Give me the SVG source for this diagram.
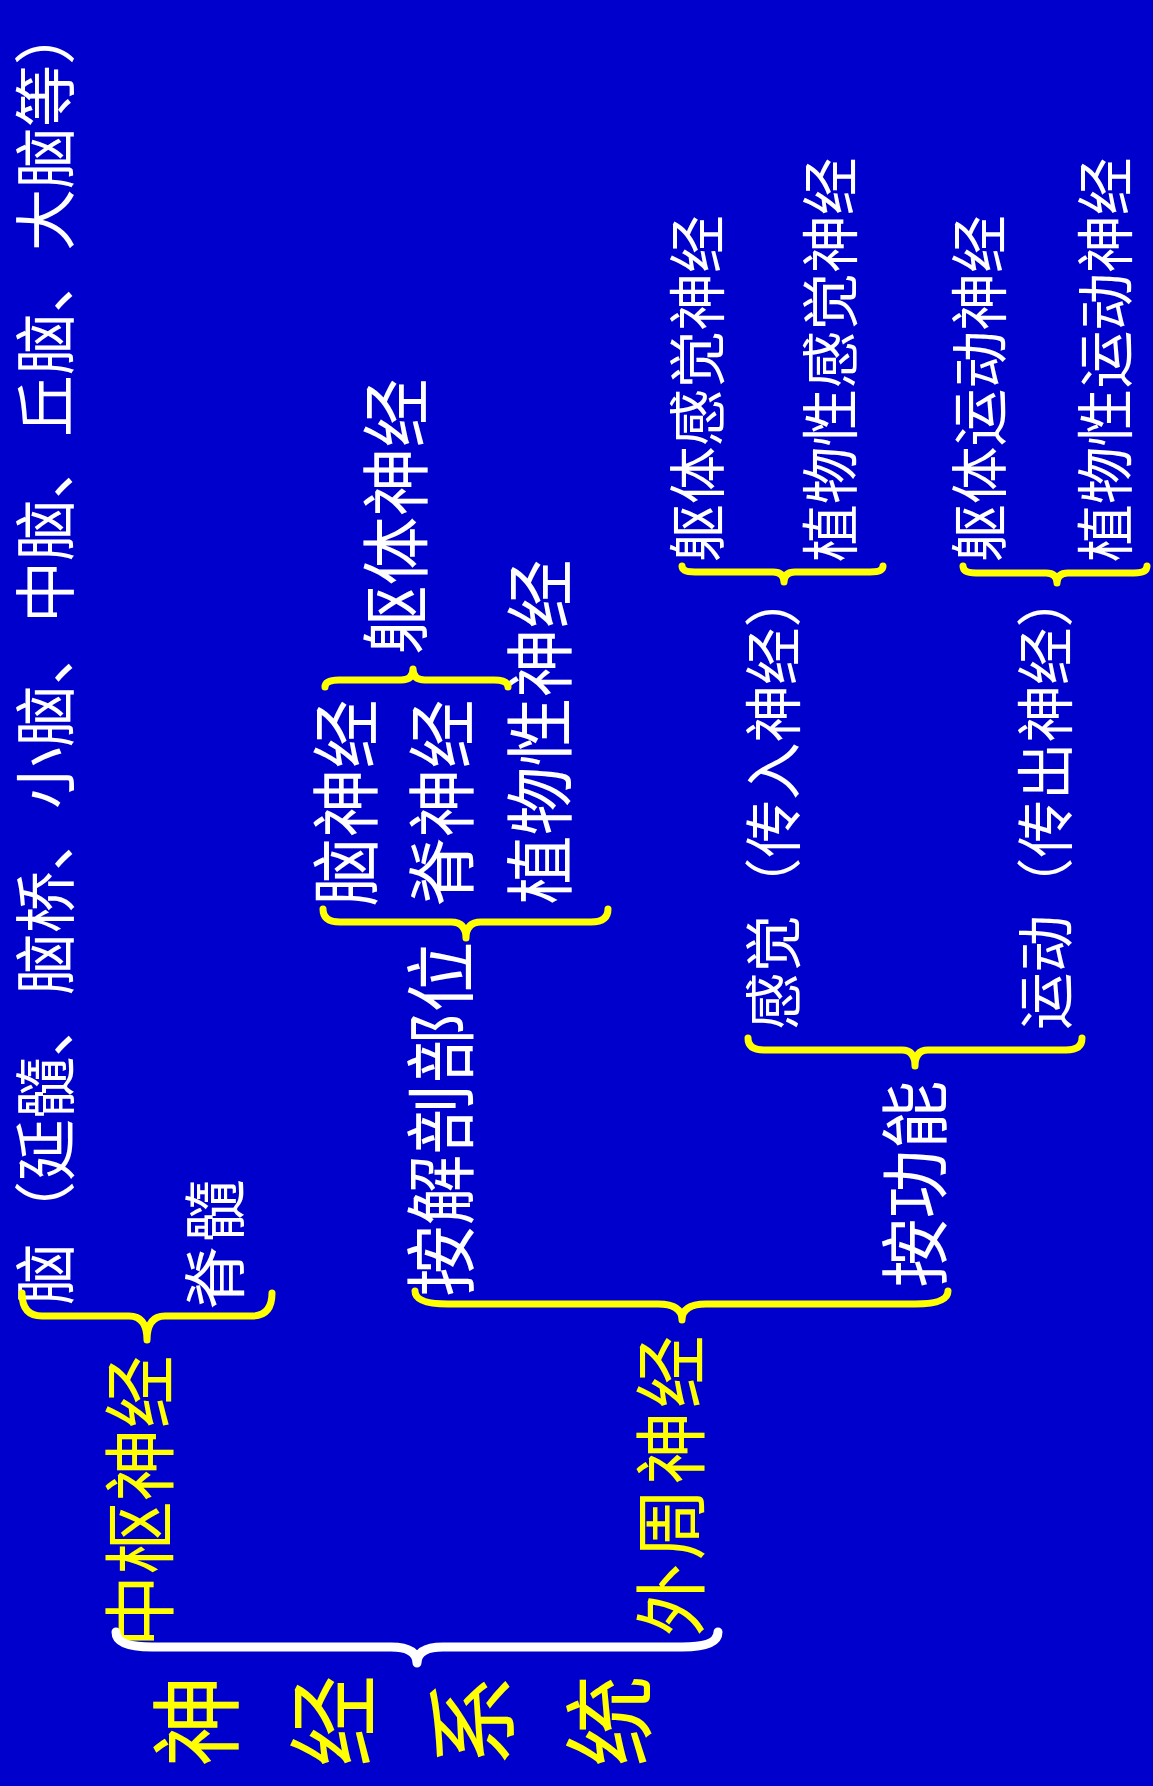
<svg xmlns="http://www.w3.org/2000/svg" width="1153" height="1786" viewBox="0 0 1153 1786">
<style>
text{font-family:"Noto Sans CJK SC","Noto Sans CJK TC",sans-serif;dominant-baseline:central}
.w{fill:#ffffff}
.y{fill:#ffff00}
.by{fill:none;stroke:#ffff00;stroke-width:7;stroke-linecap:round;stroke-linejoin:round}
.bw{fill:none;stroke:#ffffff;stroke-width:9;stroke-linecap:round;stroke-linejoin:round}
</style>
<rect x="0" y="0" width="1153" height="1786" fill="#0000cc"/>
<g id="nodes">
<g id="n-root"><text class="y" font-size="92" text-anchor="middle" transform="translate(190,1721) rotate(-90)">神</text><text class="y" font-size="92" text-anchor="middle" transform="translate(327,1721) rotate(-90)">经</text><text class="y" font-size="92" text-anchor="middle" transform="translate(466,1721) rotate(-90)">系</text><text class="y" font-size="92" text-anchor="middle" transform="translate(603,1721) rotate(-90)">统</text></g>
<g id="n-cns"><text class="y" font-size="73" transform="translate(135,1647.5) rotate(-90)">中枢神经</text></g>
<g id="n-pns"><text class="y" font-size="73" letter-spacing="3" transform="translate(666,1636.5) rotate(-90)">外周神经</text></g>
<g id="n-brain"><text class="w" font-size="62" transform="translate(41.5,1305) rotate(-90)">脑（延髓、脑桥、小脑、中脑、丘脑、大脑等）</text></g>
<g id="n-spinalcord"><text class="w" font-size="63" letter-spacing="4" transform="translate(210,1309.5) rotate(-90)">脊髓</text></g>
<g id="n-anat"><text class="w" font-size="71" transform="translate(436,1296.5) rotate(-90)">按解剖部位</text></g>
<g id="n-func"><text class="w" font-size="69" transform="translate(911,1287.5) rotate(-90)">按功能</text></g>
<g id="n-cranial"><text class="w" font-size="69" transform="translate(342,906.5) rotate(-90)">脑神经</text></g>
<g id="n-spinalnerve"><text class="w" font-size="69" transform="translate(438,906.5) rotate(-90)">脊神经</text></g>
<g id="n-autonomic"><text class="w" font-size="69" transform="translate(536,904.5) rotate(-90)">植物性神经</text></g>
<g id="n-somatic"><text class="w" font-size="69" transform="translate(392,654.5) rotate(-90)">躯体神经</text></g>
<g id="n-sensory"><text class="w" font-size="57.5" transform="translate(770,1030) rotate(-90)">感觉（传入神经）</text></g>
<g id="n-motor"><text class="w" font-size="57.5" transform="translate(1042,1030) rotate(-90)">运动（传出神经）</text></g>
<g id="n-somsens"><text class="w" font-size="57.8" transform="translate(694,562) rotate(-90)">躯体感觉神经</text></g>
<g id="n-autosens"><text class="w" font-size="57.8" transform="translate(827,562) rotate(-90)">植物性感觉神经</text></g>
<g id="n-sommot"><text class="w" font-size="57.8" transform="translate(976,562) rotate(-90)">躯体运动神经</text></g>
<g id="n-automot"><text class="w" font-size="57.8" transform="translate(1102,562) rotate(-90)">植物性运动神经</text></g>
</g>
<g id="connectors">
<path class="bw" d="M116,1632 Q116,1647 152,1647 L391,1647 Q417,1647 417,1663 Q417,1647 443,1647 L682,1647 Q718,1647 718,1632"/>
<path class="by" d="M22,1293 Q22,1316 42,1316 L129,1316 Q147,1316 147,1340 Q147,1316 165,1316 L252,1316 Q272,1316 272,1293"/>
<path class="by" d="M415,1291 Q415,1304 448,1304 L658,1304 Q682,1304 682,1320 Q682,1304 706,1304 L915,1304 Q948,1304 948,1291"/>
<path class="by" d="M323,909 Q323,922 340,922 L451,922 Q466,922 466,938 Q466,922 481,922 L591,922 Q608,922 608,909"/>
<path class="by" d="M325,687 Q325,680 339,680 L401,680 Q413,680 413,669 Q413,680 425,680 L494,680 Q508,680 508,687"/>
<path class="by" d="M748,1038 Q748,1050 764,1050 L902,1050 Q915,1050 915,1066 Q915,1050 928,1050 L1066,1050 Q1082,1050 1082,1038"/>
<path class="by" d="M682,566 Q682,572 695,572 L773,572 Q784,572 784,582 Q784,572 795,572 L870,572 Q883,572 883,566"/>
<path class="by" d="M963,566 Q963,573 976,573 L1046,573 Q1057,573 1057,583 Q1057,573 1068,573 L1134,573 Q1147,573 1147,566"/>
</g>
</svg>
